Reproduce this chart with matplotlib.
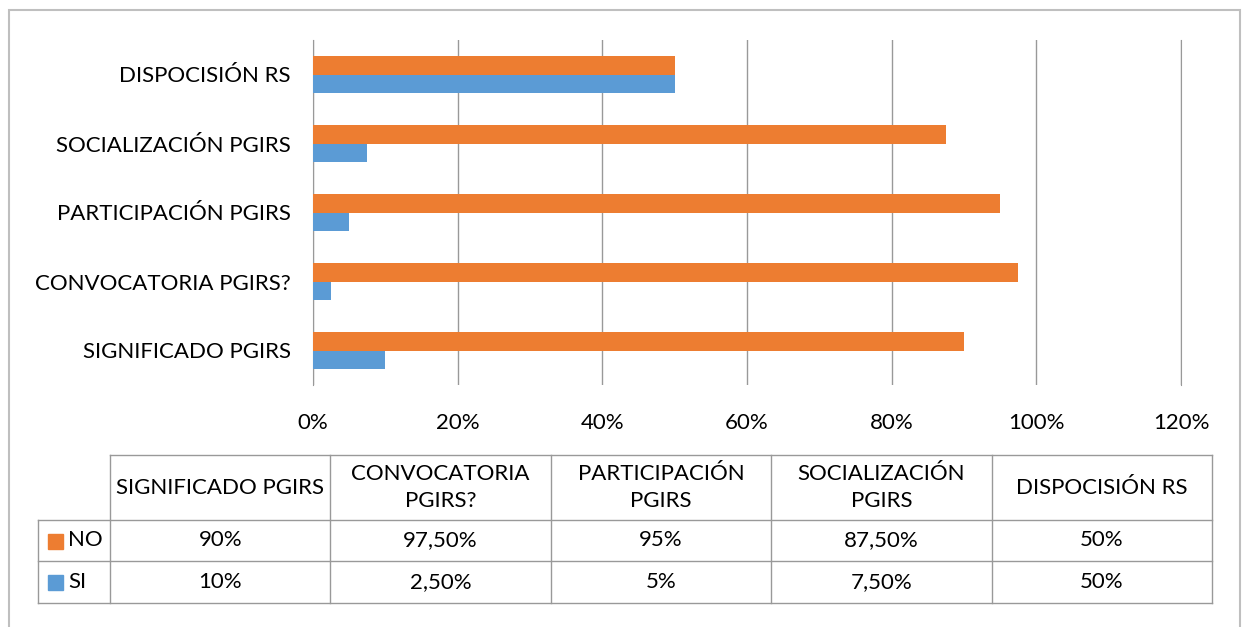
import numpy as np
import matplotlib.pyplot as plt
from matplotlib.patches import Rectangle

plt.rcParams['font.family'] = ['Lato', 'DejaVu Sans']

# datos (de abajo hacia arriba en el gráfico)
categorias = ["SIGNIFICADO PGIRS", "CONVOCATORIA PGIRS?", "PARTICIPACIÓN PGIRS",
              "SOCIALIZACIÓN PGIRS", "DISPOCISIÓN RS"]
encabezados = ["SIGNIFICADO PGIRS", "CONVOCATORIA\nPGIRS?", "PARTICIPACIÓN\nPGIRS",
               "SOCIALIZACIÓN\nPGIRS", "DISPOCISIÓN RS"]
no_vals = [90, 97.5, 95, 87.5, 50]
si_vals = [10, 2.5, 5, 7.5, 50]
no_txt = ["90%", "97,50%", "95%", "87,50%", "50%"]
si_txt = ["10%", "2,50%", "5%", "7,50%", "50%"]
ticks = [0, 20, 40, 60, 80, 100, 120]

NARANJA = '#ED7D31'
AZUL = '#5B9BD5'
GRIS = '#999999'
FS = 16
W, H = 1245, 627

fig = plt.figure(figsize=(W / 100, H / 100), dpi=100)

# marco exterior
fig.patches.append(Rectangle((9 / W, -0.1), (1240 - 9) / W, 1.1 - 10 / H,
                             transform=fig.transFigure, fill=False,
                             edgecolor='#BFBFBF', linewidth=1.5))

ax = fig.add_axes([313 / W, 1 - 385 / H, (1181 - 313) / W, (385 - 40) / H])
y = np.arange(len(categorias))
h = 0.275
ax.barh(y + h / 2, no_vals, height=h, color=NARANJA, zorder=3)
ax.barh(y - h / 2, si_vals, height=h, color=AZUL, zorder=3)
ax.set_xlim(0, 120)
ax.set_ylim(-0.5, len(categorias) - 0.5)
ax.set_xticks(ticks)
ax.set_xticklabels([f"{t}%" for t in ticks], fontsize=FS)
ax.set_yticks(y)
ax.set_yticklabels(categorias, fontsize=FS)
ax.tick_params(length=0, pad=20)
ax.tick_params(axis='y', pad=16)
ax.grid(axis='x', color=GRIS, linewidth=1, zorder=0)
for s in ['top', 'bottom']:
    ax.spines[s].set_visible(False)
ax.spines['left'].set_color(GRIS)
ax.spines['right'].set_color(GRIS)

# tabla de datos
tx = fig.add_axes([0, 0, 1, 1])
tx.set_xlim(0, W)
tx.set_ylim(H, 0)
tx.axis('off')
x0, x1 = 38, 110
cw = (1212 - x1) / len(categorias)
y_head, y_r1, y_r2, y_end = 455, 520, 561, 603
lk = dict(color=GRIS, linewidth=1)

tx.plot([x1, 1212], [y_head, y_head], **lk)
for yy in [y_r1, y_r2, y_end]:
    tx.plot([x0, 1212], [yy, yy], **lk)
tx.plot([x0, x0], [y_r1, y_end], **lk)
for i in range(len(categorias) + 1):
    tx.plot([x1 + i * cw] * 2, [y_head, y_end], **lk)

for i, lab in enumerate(encabezados):
    cx = x1 + (i + 0.5) * cw
    tx.text(cx, (y_head + y_r1) / 2, lab, ha='center', va='center',
            fontsize=FS, linespacing=1.45)
    tx.text(cx, (y_r1 + y_r2) / 2, no_txt[i], ha='center', va='center', fontsize=FS)
    tx.text(cx, (y_r2 + y_end) / 2, si_txt[i], ha='center', va='center', fontsize=FS)

for (yy0, yy1), col, nom in [((y_r1, y_r2), NARANJA, "NO"), ((y_r2, y_end), AZUL, "SI")]:
    cy = (yy0 + yy1) / 2
    tx.add_patch(Rectangle((48, cy - 7), 15, 15, color=col))
    tx.text(68, cy, nom, ha='left', va='center', fontsize=FS)

fig.savefig('out.png', dpi=100)
